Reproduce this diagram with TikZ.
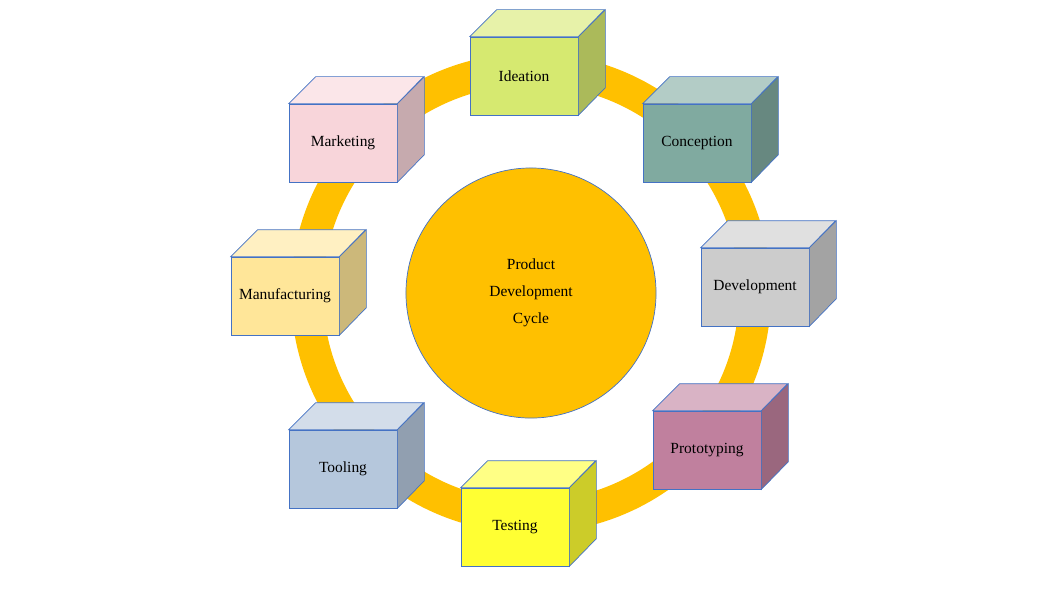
\documentclass[tikz,border=0pt]{standalone}
\usepackage{fontspec}
\setmainfont{Liberation Serif}
\usetikzlibrary{positioning}
\definecolor{ringgold}{RGB}{255,192,0}
\definecolor{edgeblue}{RGB}{68,114,196}
\definecolor{ideacol}{RGB}{214,233,112}
\definecolor{conceptcol}{RGB}{128,170,160}
\definecolor{devcol}{RGB}{204,204,204}
\definecolor{protocol}{RGB}{192,128,158}
\definecolor{testcol}{RGB}{255,255,51}
\definecolor{toolcol}{RGB}{181,199,220}
\definecolor{manucol}{RGB}{255,230,153}
\definecolor{markcol}{RGB}{248,213,218}
\tikzset{
  front/.style={draw=edgeblue, line width=0.5pt, minimum width=2.7cm, minimum height=1.95cm, inner sep=0pt, font=\fontsize{11}{13}\selectfont},
}
% cube: name, x, y of front centre (px), colour, label
\newcommand{\cube}[5]{%
  \node[front, fill=#4] (#1) at (#2,#3) {#5};
  \fill[#4!60!white, draw=edgeblue, line width=0.5pt] (#1.north west) -- ++(27,-27) -- ++(108,0) -- (#1.north east) -- cycle;
  \fill[#4!80!black, draw=edgeblue, line width=0.5pt] (#1.north east) -- ++(27,-27) -- ++(0,78) -- (#1.south east) -- cycle;
}
\begin{document}
\begin{tikzpicture}[x=0.025cm, y=-0.025cm]
\useasboundingbox (0,0) rectangle (1058,595);
% ring
\fill[ringgold, even odd rule] (531,293) circle (240) (531,293) circle (208);
\node[circle, fill=ringgold, draw=edgeblue, line width=0.5pt, minimum size=6.25cm, align=center,
  font=\fontsize{11}{19}\selectfont] (cycle) at (531,293) {Product\\Development\\Cycle};
\cube{ideation}{524}{76}{ideacol}{Ideation}
\cube{conception}{697}{143}{conceptcol}{Conception}
\cube{development}{755}{287}{devcol}{Development}
\cube{prototyping}{707}{450}{protocol}{Prototyping}
\cube{testing}{515}{527}{testcol}{Testing}
\cube{tooling}{343}{469}{toolcol}{Tooling}
\cube{manufacturing}{285}{296}{manucol}{Manufacturing}
\cube{marketing}{343}{143}{markcol}{Marketing}
\end{tikzpicture}
\end{document}
